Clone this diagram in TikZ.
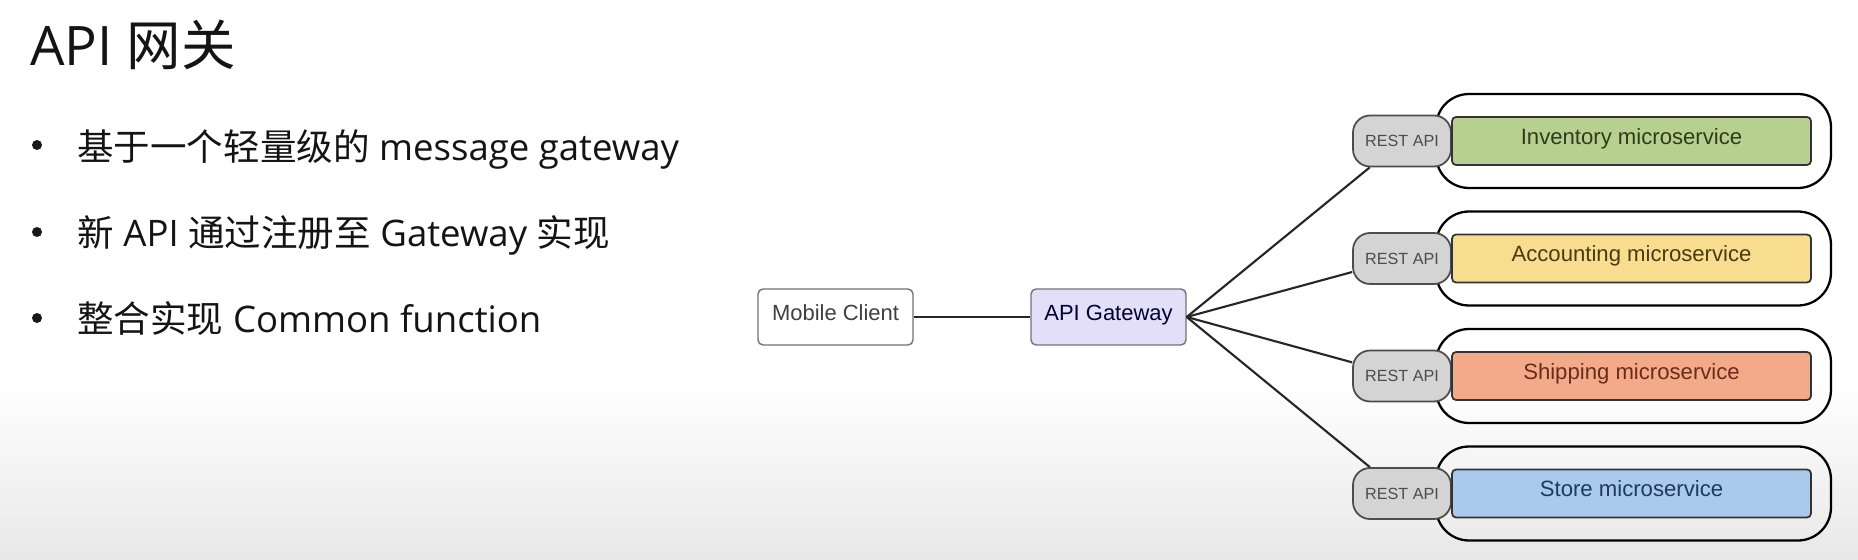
\documentclass[tikz,border=0pt]{standalone}
\usepackage{fontspec}
\setmainfont{Open Sans}
\newfontfamily\cjk{Noto Sans CJK SC}
\newfontfamily\arial{Liberation Sans}

\definecolor{invgreen}{HTML}{B7D08F}
\definecolor{accyellow}{HTML}{F9DD8F}
\definecolor{shipred}{HTML}{F2AA8B}
\definecolor{storeblue}{HTML}{A9CAEC}
\definecolor{restgray}{HTML}{D4D4D4}
\definecolor{gwlilac}{HTML}{E4DFF8}
\definecolor{invtext}{HTML}{2E3B1C}
\definecolor{acctext}{HTML}{4A3A12}
\definecolor{shiptext}{HTML}{6A2C18}
\definecolor{storetext}{HTML}{1E3A5C}

\tikzset{
  client/.style={draw=black!55, line width=0.8pt, rounded corners=0.1cm,
    minimum width=3.1cm, minimum height=1.12cm, inner sep=0pt,
    text height=0.72em, text depth=0.3em, text=black!75,
    font=\arial\fontsize{12.5}{14}\selectfont},
  pill/.style={draw=black, line width=1.3pt, rounded corners=0.66cm,
    minimum width=7.9cm, minimum height=1.88cm, inner sep=0pt},
  restbox/.style={draw=black!70, line width=1pt, fill=restgray,
    rounded corners=0.34cm, minimum width=1.96cm, minimum height=1.02cm,
    inner sep=0pt, text=black!70, font=\arial\fontsize{9.2}{11}\selectfont},
  svcbox/.style={draw=black!80, line width=1pt, rounded corners=0.08cm,
    minimum width=7.18cm, minimum height=0.96cm, inner sep=0pt,
    text height=0.72em, text depth=0.35em,
    font=\arial\fontsize{12.6}{14}\selectfont},
  dot/.style={circle, fill=black!90, minimum size=0.2cm, inner sep=0pt},
  link/.style={line width=1.2pt, black!85}
}

\begin{document}
\begin{tikzpicture}[x=0.02cm, y=-0.02cm]
\useasboundingbox (0,0) rectangle (1858,560);
\fill[white] (0,0) rectangle (1858,380);
\shade[top color=white, bottom color=black!9] (0,380) rectangle (1858,560);

% slide text
\begin{scope}[every node/.style={anchor=base west, inner sep=0pt, text=black!92}]
  \node (title) at (30,66) {\fontsize{31}{36}\selectfont API {\cjk 网关}};
  \node (line1) at (77,161) {\fontsize{20.8}{24}\selectfont {\cjk 基于一个轻量级的} message gateway};
  \node (line2) at (77,247) {\fontsize{20.8}{24}\selectfont {\cjk 新} API {\cjk 通过注册至} Gateway {\cjk 实现}};
  \node (line3) at (77,333) {\fontsize{20.8}{24}\selectfont {\cjk 整合实现} Common function};
\end{scope}
\node[dot] (dot1) at (37,145) {}; \node[dot] (dot2) at (37,232) {};
\node[dot] (dot3) at (37,318) {};

% client and gateway
\node[client] (mobile) at (835.5,317) {Mobile Client};
\node[client, fill=gwlilac, text=black!80!blue] (gw) at (1108.5,317) {API Gateway};

% services
\node[pill] (pill1) at (1633.5,141) {}; \node[pill] (pill2) at (1633.5,258.5) {};
\node[pill] (pill3) at (1633.5,376) {}; \node[pill] (pill4) at (1633.5,493.5) {};

\node[restbox] (rest1) at (1402,141) {REST API};
\node[restbox] (rest2) at (1402,258.5) {REST API};
\node[restbox] (rest3) at (1402,376) {REST API};
\node[restbox] (rest4) at (1402,493.5) {REST API};

\node[svcbox, fill=invgreen, text=invtext] (inv) at (1631.5,141) {Inventory microservice};
\node[svcbox, fill=accyellow, text=acctext] (acc) at (1631.5,258.5) {Accounting microservice};
\node[svcbox, fill=shipred, text=shiptext] (ship) at (1631.5,376) {Shipping microservice};
\node[svcbox, fill=storeblue, text=storetext] (store) at (1631.5,493.5) {Store microservice};

\begin{scope}[link]
  \draw (mobile) -- (gw);
  \draw (gw.east) -- (rest1); \draw (gw.east) -- (rest2);
  \draw (gw.east) -- (rest3); \draw (gw.east) -- (rest4);
\end{scope}
\end{tikzpicture}
\end{document}
